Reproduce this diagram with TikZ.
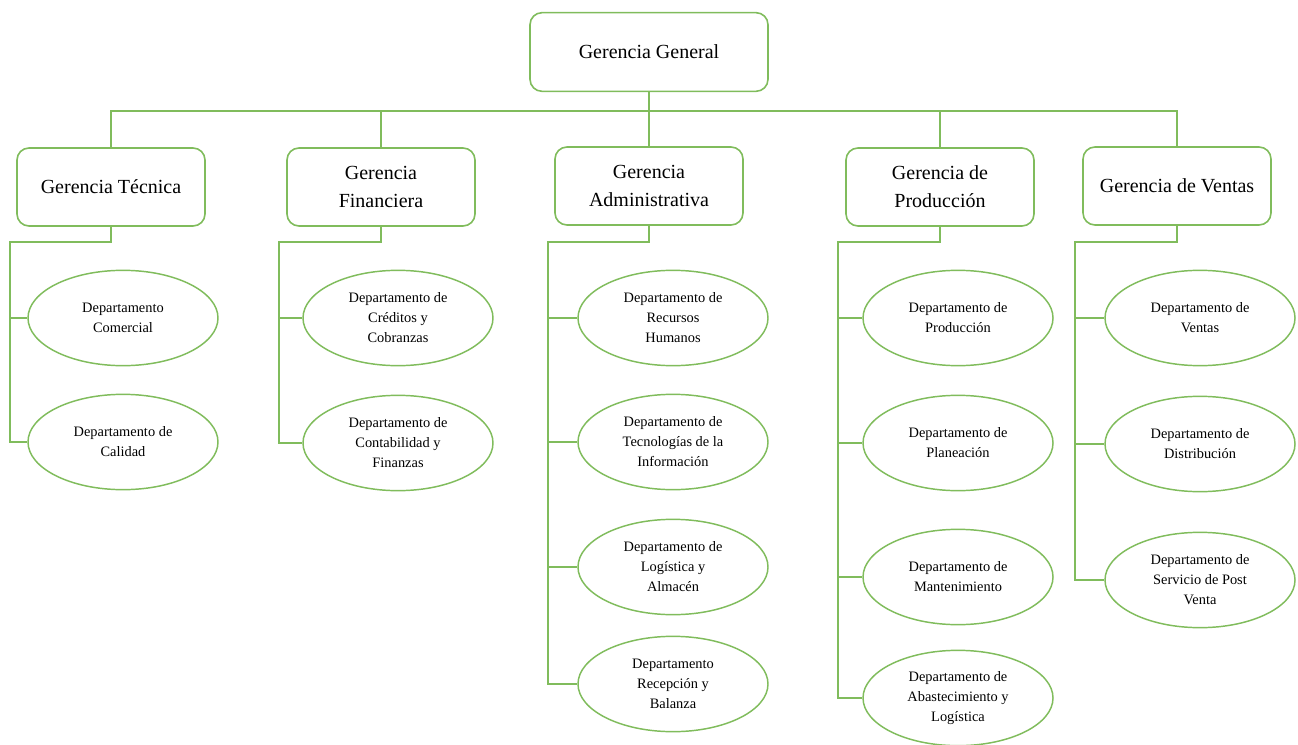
\documentclass[tikz,border=0pt]{standalone}
\usepackage{fontspec}
\setmainfont{Liberation Serif}
\usetikzlibrary{shapes.geometric}
\definecolor{orgline}{RGB}{128,188,92}
\begin{document}
\begin{tikzpicture}[x=0.75pt,y=-0.75pt,
  every node/.style={text=black},
  gerbox/.style={draw=orgline, line width=1.2pt, rounded corners=9pt, fill=white,
    minimum width=141pt, minimum height=58.5pt, align=center, inner sep=2pt,
    font=\fontsize{15}{21}\selectfont},
  depto/.style={draw=orgline, line width=1.1pt, ellipse, fill=white,
    minimum width=142.5pt, minimum height=71.5pt, align=center, inner sep=0pt,
    font=\fontsize{10.8}{15}\selectfont},
  link/.style={draw=orgline, line width=1.2pt}]
\useasboundingbox (0,0) rectangle (1298,745);

% top level
\node[gerbox, minimum width=178.5pt, minimum height=59pt] (GG) at (649,52) {Gerencia General};

% managements
\node[gerbox] (Tec) at (111,187) {Gerencia Técnica};
\node[gerbox] (Fin) at (381,187) {Gerencia\\Financiera};
\node[gerbox] (Adm) at (649,186) {Gerencia\\Administrativa};
\node[gerbox] (Pro) at (940,187) {Gerencia de\\Producción};
\node[gerbox] (Ven) at (1177,186) {Gerencia de Ventas};

% departments
\node[depto] (Tec1) at (123,318) {Departamento\\Comercial};
\node[depto] (Tec2) at (123,442) {Departamento de\\Calidad};

\node[depto] (Fin1) at (398,318) {Departamento de\\Créditos y\\Cobranzas};
\node[depto] (Fin2) at (398,443) {Departamento de\\Contabilidad y\\Finanzas};

\node[depto] (Adm1) at (673,318) {Departamento de\\Recursos\\Humanos};
\node[depto] (Adm2) at (673,442) {Departamento de\\Tecnologías de la\\Información};
\node[depto] (Adm3) at (673,567) {Departamento de\\Logística y\\Almacén};
\node[depto] (Adm4) at (673,684) {Departamento\\Recepción y\\Balanza};

\node[depto] (Pro1) at (958,318) {Departamento de\\Producción};
\node[depto] (Pro2) at (958,443) {Departamento de\\Planeación};
\node[depto] (Pro3) at (958,577) {Departamento de\\Mantenimiento};
\node[depto] (Pro4) at (958,698) {Departamento de\\Abastecimiento y\\Logística};

\node[depto] (Ven1) at (1200,318) {Departamento de\\Ventas};
\node[depto] (Ven2) at (1200,444) {Departamento de\\Distribución};
\node[depto] (Ven3) at (1200,580) {Departamento de\\Servicio de Post\\Venta};

% main bus
\coordinate (bus) at (0,111);
\path[link] (GG.south) -- (Adm.north);
\path[link] (Tec.north) -- (Tec.north |- bus) -- (Ven.north |- bus) -- (Ven.north);
\path[link] (Fin.north) -- (Fin.north |- bus);
\path[link] (Pro.north) -- (Pro.north |- bus);

% department branches
\coordinate (tecJ) at (10,242);
\coordinate (finJ) at (279,242);
\coordinate (admJ) at (548,242);
\coordinate (proJ) at (838,242);
\coordinate (venJ) at (1075,242);

\path[link] (Tec.south) |- (tecJ) -- (tecJ |- Tec2.west) -- (Tec2.west);
\path[link] (tecJ |- Tec1.west) -- (Tec1.west);

\path[link] (Fin.south) |- (finJ) -- (finJ |- Fin2.west) -- (Fin2.west);
\path[link] (finJ |- Fin1.west) -- (Fin1.west);

\path[link] (Adm.south) |- (admJ) -- (admJ |- Adm4.west) -- (Adm4.west);
\path[link] (admJ |- Adm1.west) -- (Adm1.west);
\path[link] (admJ |- Adm2.west) -- (Adm2.west);
\path[link] (admJ |- Adm3.west) -- (Adm3.west);

\path[link] (Pro.south) |- (proJ) -- (proJ |- Pro4.west) -- (Pro4.west);
\path[link] (proJ |- Pro1.west) -- (Pro1.west);
\path[link] (proJ |- Pro2.west) -- (Pro2.west);
\path[link] (proJ |- Pro3.west) -- (Pro3.west);

\path[link] (Ven.south) |- (venJ) -- (venJ |- Ven3.west) -- (Ven3.west);
\path[link] (venJ |- Ven1.west) -- (Ven1.west);
\path[link] (venJ |- Ven2.west) -- (Ven2.west);
\end{tikzpicture}
\end{document}
